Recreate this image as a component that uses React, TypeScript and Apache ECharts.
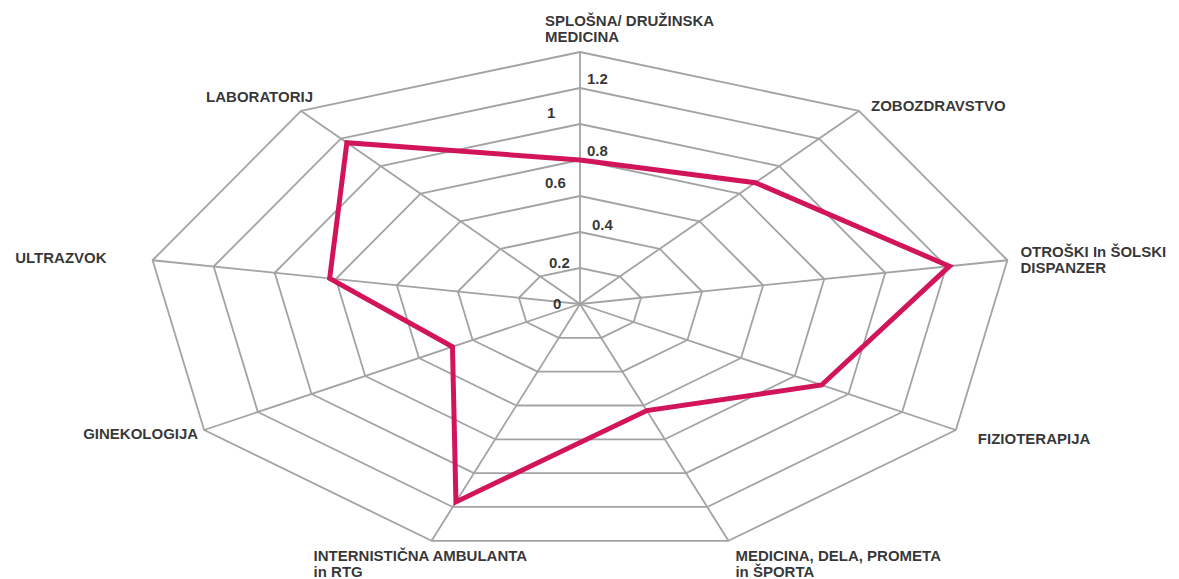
import React, { useEffect, useRef } from "react";
import * as echarts from "echarts";

const categories: string[] = [
  "SPLOŠNA/ DRUŽINSKA\nMEDICINA",
  "ZOBOZDRAVSTVO",
  "OTROŠKI In ŠOLSKI\nDISPANZER",
  "FIZIOTERAPIJA",
  "MEDICINA, DELA, PROMETA\nin ŠPORTA",
  "INTERNISTIČNA AMBULANTA\nin RTG",
  "GINEKOLOGIJA",
  "ULTRAZVOK",
  "LABORATORIJ",
];
const values: number[] = [0.8, 0.88, 1.21, 0.9, 0.63, 1.17, 0.475, 0.82, 1.17];
const tickValues: number[] = [0, 0.2, 0.4, 0.6, 0.8, 1, 1.2];
const ringLevels: number[] = [0.2, 0.4, 0.6, 0.8, 1, 1.2, 1.4];
const maxValue = 1.4;

// label styling (offsets from anchor, alignment)
const catLabelStyle: { dx: number; dy: number; align: string }[] = [
  { dx: -35, dy: -24, align: "left" },
  { dx: 12, dy: -5, align: "left" },
  { dx: 13, dy: -1, align: "left" },
  { dx: 22, dy: 8, align: "left" },
  { dx: 7, dy: 23, align: "left" },
  { dx: -118, dy: 23, align: "left" },
  { dx: -6, dy: 3, align: "right" },
  { dx: -46, dy: -3, align: "right" },
  { dx: 12, dy: -14, align: "right" },
];
const tickLabelStyle: { dx: number; dy: number }[] = [
  { dx: -27, dy: -1 },
  { dx: -31, dy: -6 },
  { dx: 12, dy: -8 },
  { dx: -35, dy: -14 },
  { dx: 7, dy: -10 },
  { dx: -33, dy: -12 },
  { dx: 7, dy: -10 },
];

const N = categories.length;
const toXY = (i: number, v: number): [number, number] => {
  const a = (2 * Math.PI * i) / N;
  return [v * Math.sin(a), v * Math.cos(a)];
};

const GRID_COLOR = "#a3a3a3";
const FONT = "'Liberation Sans', Arial, sans-serif";

export default function App() {
  const ref = useRef<HTMLDivElement>(null);
  useEffect(() => {
    if (!ref.current) return;
    const chart = echarts.init(ref.current, undefined, { renderer: "svg" });
    const series: any[] = [];
    ringLevels.forEach((lv) => {
      const pts = categories.map((_, i) => toXY(i, lv));
      pts.push(pts[0]);
      series.push({
        type: "line",
        data: pts,
        symbol: "none",
        silent: true,
        lineStyle: { color: GRID_COLOR, width: 1.8 },
        z: 1,
      });
    });
    categories.forEach((_, i) => {
      series.push({
        type: "line",
        data: [toXY(i, 0), toXY(i, maxValue)],
        symbol: "none",
        silent: true,
        lineStyle: { color: GRID_COLOR, width: 1.8 },
        z: 1,
      });
    });
    const dataPts = values.map((v, i) => toXY(i, v));
    dataPts.push(dataPts[0]);
    series.push({
      type: "line",
      data: dataPts,
      symbol: "none",
      silent: true,
      lineStyle: { color: "#d2155a", width: 5, join: "miter" },
      z: 5,
    });
    series.push({
      type: "scatter",
      symbolSize: 1,
      itemStyle: { color: "rgba(0,0,0,0)" },
      silent: true,
      z: 6,
      data: categories.map((c, i) => ({
        value: toXY(i, maxValue),
        label: {
          show: true,
          formatter: c,
          position: "inside",
          offset: [catLabelStyle[i].dx, catLabelStyle[i].dy],
          align: catLabelStyle[i].align,
          verticalAlign: "middle",
          color: "#000",
          fontSize: 15,
          fontWeight: "bold",
          fontFamily: FONT,
          lineHeight: 16,
        },
      })),
    });
    series.push({
      type: "scatter",
      symbolSize: 1,
      itemStyle: { color: "rgba(0,0,0,0)" },
      silent: true,
      z: 6,
      data: tickValues.map((t, k) => ({
        value: toXY(0, t),
        label: {
          show: true,
          formatter: String(t),
          position: "inside",
          offset: [tickLabelStyle[k].dx, tickLabelStyle[k].dy],
          align: "left",
          verticalAlign: "middle",
          color: "#000",
          fontSize: 15,
          fontWeight: "bold",
          fontFamily: FONT,
        },
      })),
    });
    chart.setOption({
      animation: false,
      backgroundColor: "#fff",
      grid: { left: 146, top: 52, width: 868, height: 504 },
      xAxis: { type: "value", min: -maxValue, max: maxValue, show: false },
      yAxis: { type: "value", min: -maxValue, max: maxValue, show: false },
      series,
    });
    return () => chart.dispose();
  }, []);
  return (
    <div
      ref={ref}
      style={{ position: "fixed", left: 0, top: 0, width: 1179, height: 579 }}
    />
  );
}
